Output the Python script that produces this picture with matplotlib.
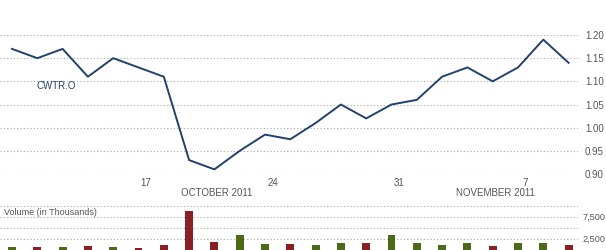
import matplotlib
matplotlib.use("Agg")
import matplotlib.pyplot as plt
import numpy as np

plt.rcParams['font.family'] = ['Liberation Sans', 'DejaVu Sans']

# trading days Oct 10 - Nov 9 2011
price = [1.17, 1.15, 1.17, 1.11, 1.15, 1.13, 1.11, 0.93, 0.91, 0.95, 0.985, 0.975,
         1.01, 1.05, 1.02, 1.05, 1.06, 1.11, 1.13, 1.10, 1.13, 1.19, 1.14]
volume = [650, 650, 650, 880, 650, 420, 1100, 8700, 1800, 3350, 1270, 1270,
          1040, 1500, 1500, 3350, 1500, 1040, 1500, 800, 1500, 1500, 1040]
up_day = [True, False, True, False, True, False, False, False, False, True, True, False,
          True, True, False, True, True, True, True, False, True, True, False]
week_ticks = [5, 10, 15, 20]
week_labels = ['17', '24', '31', '7']
month_pos = [8, 19]
month_labels = ['OCTOBER 2011', 'NOVEMBER 2011']
price_ticks = [0.90, 0.95, 1.00, 1.05, 1.10, 1.15, 1.20]
vol_ticks = [2500, 7500]

line_col = '#22416e'
grid_col = '#a8a8a8'
text_col = '#555555'
W, H = 606, 250

fig = plt.figure(figsize=(W / 100, H / 100), dpi=100)
x = np.arange(len(price))
xlim = (-12 / 25.3, (578 - 12) / 25.3)

# price panel
ax = fig.add_axes([0, 1 - 174 / H, 578 / W, 174 / H])
ax.plot(x, price, color=line_col, lw=1.4)
ax.set_xlim(*xlim)
ax.set_ylim(0.90, 0.90 + 174 / 463.3)
for v in price_ticks:
    ax.axhline(v, color=grid_col, lw=0.8, ls=(0, (1, 2)), zorder=0)
ax.set_yticks(price_ticks)
ax.set_yticklabels(['%.2f' % v for v in price_ticks])
ax.yaxis.tick_right()
ax.tick_params(axis='y', length=0, pad=5, labelsize=7, labelcolor=text_col)
ax.set_xticks([t + 0.3 for t in week_ticks])
ax.set_xticklabels(week_labels)
ax.tick_params(axis='x', length=0, pad=3, labelsize=7, labelcolor=text_col)
for s in ax.spines.values():
    s.set_visible(False)
ax.text(0.95, 1.09, 'CWTR.O', color=line_col, fontsize=7, va='center', ha='left')
for p, lab in zip(month_pos, month_labels):
    ax.text(p + 0.1, 0.90 - 19 / 463.3, lab, color=text_col, fontsize=7,
            ha='center', va='center', clip_on=False)

# volume panel
vx = fig.add_axes([0, 0.5 / H, 578 / W, 43.8 / H])
cols = ['#4b6b17' if u else '#8b1f24' for u in up_day]
vx.bar(x, volume, width=0.31, color=cols, zorder=2)
vx.set_xlim(*xlim)
vx.set_ylim(0, 10000)
for v in [2500, 5000, 7500, 10000]:
    vx.axhline(v, color=grid_col, lw=0.8, ls=(0, (1, 2)), zorder=0)
vx.set_yticks(vol_ticks)
vx.set_yticklabels(['{:,}'.format(v) for v in vol_ticks])
vx.yaxis.tick_right()
vx.tick_params(axis='y', length=0, pad=3, labelsize=6.6, labelcolor=text_col)
vx.set_xticks([])
for s in vx.spines.values():
    s.set_visible(False)
vx.text(4 / 578, 8500, 'Volume (in Thousands)', transform=vx.get_yaxis_transform(),
        color=text_col, fontsize=6.5, va='center', ha='left')

fig.savefig('out.png', dpi=100)
